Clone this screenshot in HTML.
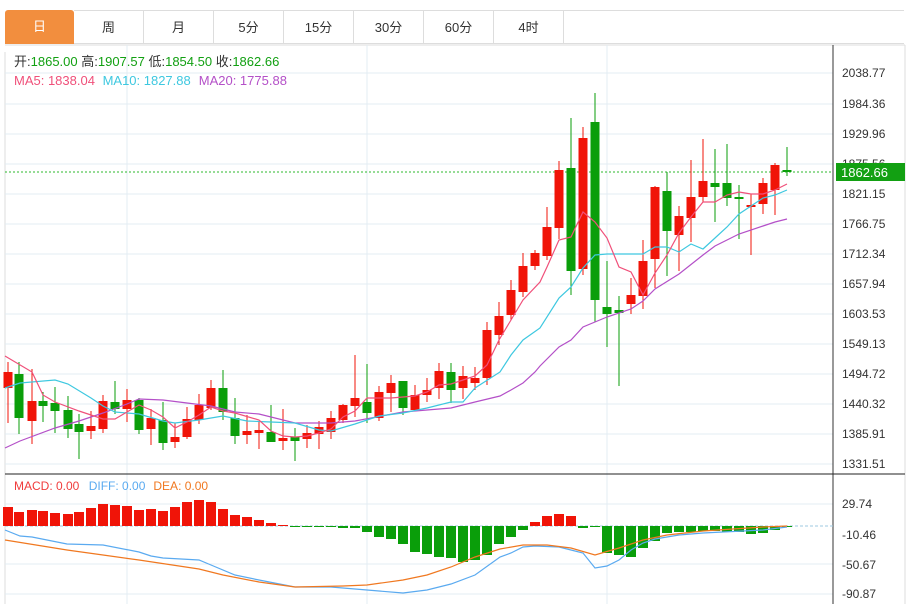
<!DOCTYPE html>
<html><head><meta charset="utf-8"><style>
body{margin:0;background:#fff;font-family:"Liberation Sans","Noto Sans CJK SC",sans-serif;}
.tabs{position:absolute;left:5px;top:10px;height:35px;display:flex;}
.tab{width:60px;height:34px;line-height:34px;text-align:center;font-size:13px;color:#333;border:1px solid #ddd;border-left:none;box-sizing:border-box;}
.tab.on{background:#f28e3e;color:#fff;border:none;border-radius:3px 3px 0 0;}
</style></head><body>
<div class="tabs"><div class="tab on" style="width:69px">日</div><div class="tab" style="width:70px">周</div><div class="tab" style="width:70px">月</div><div class="tab" style="width:70px">5分</div><div class="tab" style="width:70px">15分</div><div class="tab" style="width:70px">30分</div><div class="tab" style="width:70px">60分</div><div class="tab" style="width:70px">4时</div><div class="tab" style="width:340px;border-right:none"></div></div>
<svg width="909" height="604" style="position:absolute;left:0;top:0" font-family="Liberation Sans, Noto Sans CJK SC, sans-serif">
<g stroke="#e3ecf3" stroke-width="1">
<line x1="5" y1="52" x2="5" y2="604" stroke="#ddd"/>
<line x1="5" y1="45" x2="905" y2="45" stroke="#ddd"/>
<line x1="5" y1="73" x2="833" y2="73"/><line x1="5" y1="104" x2="833" y2="104"/><line x1="5" y1="134" x2="833" y2="134"/><line x1="5" y1="164" x2="833" y2="164"/><line x1="5" y1="194" x2="833" y2="194"/><line x1="5" y1="224" x2="833" y2="224"/><line x1="5" y1="254" x2="833" y2="254"/><line x1="5" y1="284" x2="833" y2="284"/><line x1="5" y1="314" x2="833" y2="314"/><line x1="5" y1="344" x2="833" y2="344"/><line x1="5" y1="374" x2="833" y2="374"/><line x1="5" y1="404" x2="833" y2="404"/><line x1="5" y1="434" x2="833" y2="434"/><line x1="5" y1="464" x2="833" y2="464"/>
<line x1="5" y1="504" x2="833" y2="504"/><line x1="5" y1="564" x2="833" y2="564"/><line x1="5" y1="594" x2="833" y2="594"/>
<line x1="127" y1="45" x2="127" y2="604"/><line x1="367" y1="45" x2="367" y2="604"/><line x1="607" y1="45" x2="607" y2="604"/>
</g>
<line x1="833" y1="45" x2="833" y2="604" stroke="#333"/>
<line x1="905" y1="45" x2="905" y2="604" stroke="#ddd"/>
<line x1="5" y1="474" x2="905" y2="474" stroke="#222"/>
<line x1="5" y1="526" x2="833" y2="526" stroke="#9cc8e0" stroke-dasharray="3,2"/>
<g font-size="12" fill="#333">
<text x="842" y="77">2038.77</text><text x="842" y="108">1984.36</text><text x="842" y="138">1929.96</text><text x="842" y="168">1875.56</text><text x="842" y="198">1821.15</text><text x="842" y="228">1766.75</text><text x="842" y="258">1712.34</text><text x="842" y="288">1657.94</text><text x="842" y="318">1603.53</text><text x="842" y="348">1549.13</text><text x="842" y="378">1494.72</text><text x="842" y="408">1440.32</text><text x="842" y="438">1385.91</text><text x="842" y="468">1331.51</text>
<text x="842" y="508">29.74</text><text x="842" y="539">-10.46</text><text x="842" y="569">-50.67</text><text x="842" y="598">-90.87</text>
</g>
<rect x="836" y="163" width="69" height="18" fill="#12a012"/>
<text x="841" y="177" font-size="13" fill="#fff">1862.66</text>
<line x1="5" y1="172" x2="833" y2="172" stroke="#2cb82c" stroke-dasharray="2,2"/>
<text x="14" y="66" font-size="13" fill="#333">开:<tspan fill="#12a012">1865.00</tspan>  高:<tspan fill="#12a012">1907.57</tspan>  低:<tspan fill="#12a012">1854.50</tspan>  收:<tspan fill="#12a012">1862.66</tspan></text>
<text x="14" y="85" font-size="13" fill="#f0507a">MA5: 1838.04 <tspan fill="#3ec8e0" dx="4">MA10: 1827.88</tspan><tspan fill="#b450c8" dx="8">MA20: 1775.88</tspan></text>
<text x="14" y="490" font-size="12" fill="#f03c3c">MACD: 0.00 <tspan fill="#5aaaf0" dx="6">DIFF: 0.00</tspan><tspan fill="#f07820" dx="8">DEA: 0.00</tspan></text>
<g id="c"></g><g id="m"></g>
<polyline fill="none" stroke="#b450c8" stroke-width="1.2" points="5,448 20,441 55,428 79,421 103,413 127,404 139,399 163,400 187,403 211,406 235,412 259,414 295,423 331,423 355,421 403,412 427,410 451,408 475,402 500,396 511,390 523,383 535,372 540,366 559,347 571,340 583,327 607,317 631,309 643,301 655,289 679,274 703,255 715,246 739,234 763,226 775,222 787,219"/>
<polyline fill="none" stroke="#3ec8e0" stroke-width="1.2" points="5,388 20,383 55,380 68,384 91,398 103,406 115,412 139,414 163,421 175,423 199,420 223,416 247,421 271,422 295,423 319,430 331,431 355,424 379,416 403,413 427,408 451,402 463,402 475,388 500,372 511,355 523,340 540,328 559,298 571,287 583,268 595,255 607,254 643,254 655,247 667,247 679,252 691,244 703,249 715,238 727,227 739,214 751,206 763,198 775,195 787,190"/>
<polyline fill="none" stroke="#f0507a" stroke-width="1.2" points="5,356 32,372 43,395 55,402 79,411 103,419 115,419 127,412 139,405 151,410 163,417 175,428 187,422 199,415 211,407 223,411 235,413 259,420 271,431 283,436 295,437 307,436 319,433 331,429 343,417 355,411 367,398 379,398 391,398 403,397 415,396 427,392 439,385 451,384 463,380 475,376 487,365 499,340 511,320 523,300 540,282 547,267 559,240 571,237 583,212 595,222 607,238 619,267 631,272 643,295 655,273 667,255 679,233 691,217 703,202 715,202 727,195 739,192 751,194 763,194 775,190 787,184"/>
<polyline fill="none" stroke="#5aaaf0" stroke-width="1.2" points="5,530 20,536 32,537 67,544 103,545 139,552 151,556 163,558 199,560 211,565 235,575 259,580 295,587 331,587 355,589 367,590 403,593 427,590 451,584 475,575 500,557 511,553 523,547 535,546 559,547 571,550 583,553 595,568 607,566 619,560 631,550 643,543 655,539 667,537 679,535 703,533 763,530 787,527"/>
<polyline fill="none" stroke="#f07820" stroke-width="1.2" points="5,540 67,550 103,555 139,560 199,569 223,575 259,582 295,587 343,586 367,585 403,580 427,575 451,567 475,557 500,549 523,545 547,545 571,548 595,555 619,548 643,540 667,535 703,531 763,527 787,526"/>
</svg>
<script>
var C=[[8,'r',372,388,362,423],[19,'g',374,418,362,434],[32,'r',401,421,369,444],[43,'g',401,406,392,422],[55,'g',403,411,387,433],[68,'g',410,429,396,438],[79,'g',424,432,414,459],[91,'r',426,431,411,439],[103,'r',401,429,395,433],[115,'g',402,409,381,414],[127,'r',400,409,389,422],[139,'g',400,430,398,434],[151,'r',418,429,409,445],[163,'g',420,443,402,450],[175,'r',437,442,423,448],[187,'r',419,437,407,439],[199,'r',405,420,394,424],[211,'r',388,408,380,410],[223,'g',388,412,370,420],[235,'g',418,436,398,444],[247,'r',431,435,415,444],[259,'r',430,433,422,449],[271,'g',432,442,405,442],[283,'r',438,441,409,450],[295,'g',437,441,428,461],[307,'r',433,439,425,448],[319,'r',427,434,421,449],[331,'r',418,432,411,439],[343,'r',405,420,404,423],[355,'r',398,406,355,417],[367,'g',402,413,364,423],[379,'r',392,418,386,421],[391,'r',383,393,375,412],[403,'g',381,408,381,415],[415,'r',395,410,385,411],[427,'r',390,395,378,402],[439,'r',371,388,363,399],[451,'g',372,390,363,403],[463,'r',376,388,366,399],[475,'r',378,383,367,390],[487,'r',330,378,322,385],[499,'r',316,335,302,345],[511,'r',290,315,280,320],[523,'r',266,292,253,297],[535,'r',253,266,250,270],[547,'r',227,256,207,260],[559,'r',170,228,161,239],[571,'g',168,271,118,295],[583,'r',138,269,127,275],[595,'g',122,300,93,322],[607,'g',307,314,261,347],[619,'g',310,313,296,386],[631,'r',295,304,278,314],[643,'r',261,296,240,309],[655,'r',187,259,186,288],[667,'g',191,231,172,276],[679,'r',216,235,206,271],[691,'r',197,218,160,242],[703,'r',181,197,139,202],[715,'g',183,187,149,222],[727,'g',183,198,144,206],[739,'g',197,199,185,239],[751,'r',205,207,194,255],[763,'r',183,204,178,214],[775,'r',165,190,163,215],[787,'g',170,172,147,176]];
var M=[507,512,510,511,513,514,512,508,504,505,506,510,509,511,507,502,500,502,509,515,517,520,523,525,526,527,527,527,528,528,532,537,539,544,552,554,557,558,562,560,555,544,537,530,522,516,514,516,528,527,553,555,557,548,541,533,532,532,531,531,532,532,534,533,530,527];
var s='',ns='http://www.w3.org/2000/svg';
C.forEach(function(c){var col=c[1]=='r'?'#f01408':'#0a9e0a';s+='<line x1="'+c[0]+'" y1="'+c[4]+'" x2="'+c[0]+'" y2="'+c[5]+'" stroke="'+col+'"/><rect x="'+(c[0]-4.5)+'" y="'+c[2]+'" width="9" height="'+Math.max(2,c[3]-c[2])+'" fill="'+col+'"/>';});
document.getElementById('c').innerHTML=s;s='';
M.forEach(function(v,i){var x=C[i][0];var col=v<526?'#f01408':'#0a9e0a';var y=Math.min(v,526),h=Math.max(1,Math.abs(v-526));s+='<rect x="'+(x-5)+'" y="'+y+'" width="10" height="'+h+'" fill="'+col+'"/>';});
document.getElementById('m').innerHTML=s;
</script>
</body></html>
